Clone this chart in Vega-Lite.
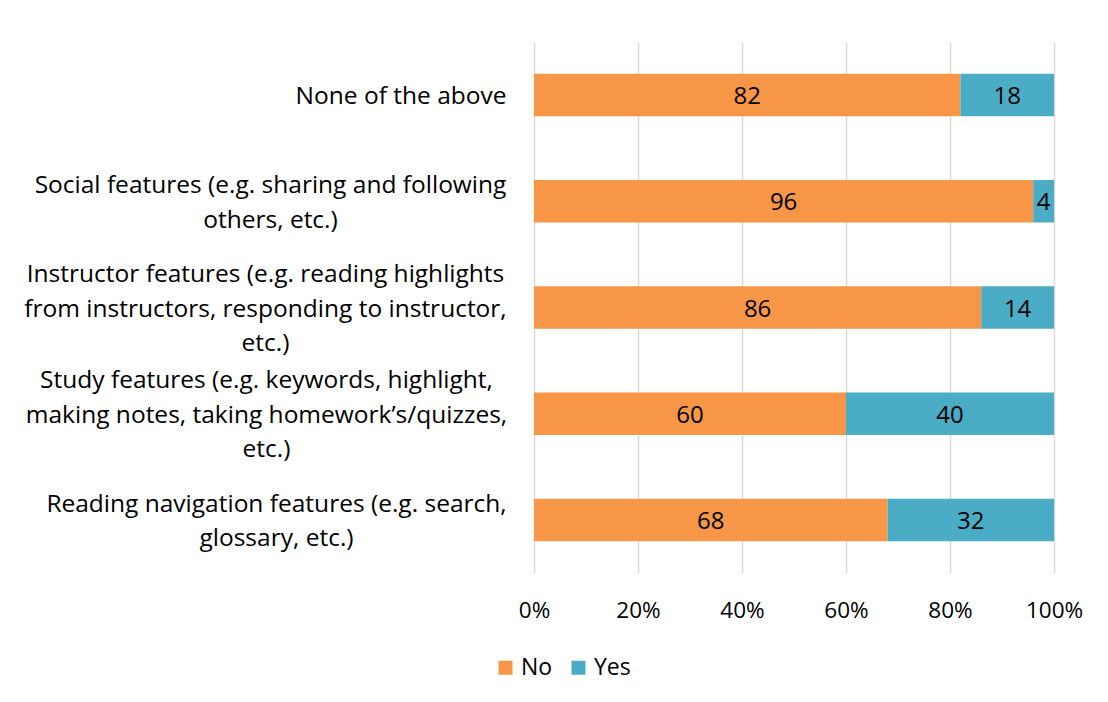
{
  "$schema": "https://vega.github.io/schema/vega-lite/v6.json",
  "autosize": {"type": "none"},
  "width": 520,
  "height": 531,
  "padding": {"left": 534, "top": 42, "right": 54, "bottom": 129},
  "background": "white",
  "config": {
    "font": "Open Sans",
    "view": {"stroke": null},
    "axis": {"labelFont": "Open Sans", "labelFontSize": 24.5, "labelColor": "#000000"},
    "legend": {"labelFont": "Open Sans", "labelFontSize": 23, "labelColor": "#000000"}
  },
  "data": {
    "values": [
      {"feature": "None of the above", "answer": "No", "value": 82},
      {"feature": "None of the above", "answer": "Yes", "value": 18},
      {"feature": "Social features (e.g. sharing and following|others, etc.)", "answer": "No", "value": 96},
      {"feature": "Social features (e.g. sharing and following|others, etc.)", "answer": "Yes", "value": 4},
      {"feature": "Instructor features (e.g. reading highlights|from instructors, responding to instructor,|etc.)", "answer": "No", "value": 86},
      {"feature": "Instructor features (e.g. reading highlights|from instructors, responding to instructor,|etc.)", "answer": "Yes", "value": 14},
      {"feature": "Study features (e.g. keywords, highlight,|making notes, taking homework’s/quizzes,|etc.)", "answer": "No", "value": 60},
      {"feature": "Study features (e.g. keywords, highlight,|making notes, taking homework’s/quizzes,|etc.)", "answer": "Yes", "value": 40},
      {"feature": "Reading navigation features (e.g. search,|glossary, etc.)", "answer": "No", "value": 68},
      {"feature": "Reading navigation features (e.g. search,|glossary, etc.)", "answer": "Yes", "value": 32}
    ]
  },
  "transform": [
    {"stack": "value", "groupby": ["feature"], "sort": [{"field": "answer", "order": "ascending"}], "as": ["v0", "v1"], "offset": "normalize"},
    {"calculate": "(datum.v0 + datum.v1) / 2", "as": "mid"}
  ],
  "encoding": {
    "y": {
      "field": "feature",
      "type": "nominal",
      "sort": null,
      "scale": {"paddingInner": 0.6, "paddingOuter": 0.3},
      "axis": {
        "title": null,
        "domain": false,
        "ticks": false,
        "labelLimit": 0,
        "labelOverlap": false,
        "labelLineHeight": 34.5,
        "labelExpr": "split(datum.label, '|')",
        "labelAlign": {
          "condition": {"test": "indexof(datum.value, 'None') == 0", "value": "right"},
          "value": "center"
        },
        "labelPadding": {
          "condition": [
            {"test": "indexof(datum.value, 'None') == 0", "value": 28},
            {"test": "indexof(datum.value, 'Social') == 0", "value": 264},
            {"test": "indexof(datum.value, 'Instructor') == 0", "value": 269},
            {"test": "indexof(datum.value, 'Study') == 0", "value": 268}
          ],
          "value": 258
        },
        "labelOffset": {
          "condition": [
            {"test": "length(split(datum.value, '|')) == 3", "value": -32.5},
            {"test": "length(split(datum.value, '|')) == 2", "value": -15}
          ],
          "value": 2
        }
      }
    }
  },
  "layer": [
    {
      "mark": {"type": "bar"},
      "encoding": {
        "x": {
          "field": "v0",
          "type": "quantitative",
          "scale": {"domain": [0, 1], "nice": false},
          "axis": {
            "title": null,
            "format": ".0%",
            "values": [0, 0.2, 0.4, 0.6, 0.8, 1],
            "domain": false,
            "ticks": false,
            "grid": true,
            "gridColor": "#d9d9d9",
            "gridWidth": 1.5,
            "labelFlush": false,
            "labelFontSize": 22.5,
            "labelPadding": 26
          }
        },
        "x2": {"field": "v1"},
        "color": {
          "field": "answer",
          "type": "nominal",
          "scale": {"domain": ["No", "Yes"], "range": ["#F79646", "#4BACC6"]},
          "legend": {
            "title": null,
            "orient": "none",
            "direction": "horizontal",
            "legendX": -40,
            "legendY": 614,
            "symbolType": "square",
            "symbolSize": 196,
            "symbolStrokeWidth": 0,
            "columnPadding": 14,
            "labelOffset": 4
          }
        }
      }
    },
    {
      "mark": {"type": "text", "fontSize": 24, "color": "#000000", "align": "center", "baseline": "middle", "dy": 2},
      "encoding": {
        "x": {"field": "mid", "type": "quantitative"},
        "text": {"field": "value", "type": "quantitative"}
      }
    }
  ]
}
